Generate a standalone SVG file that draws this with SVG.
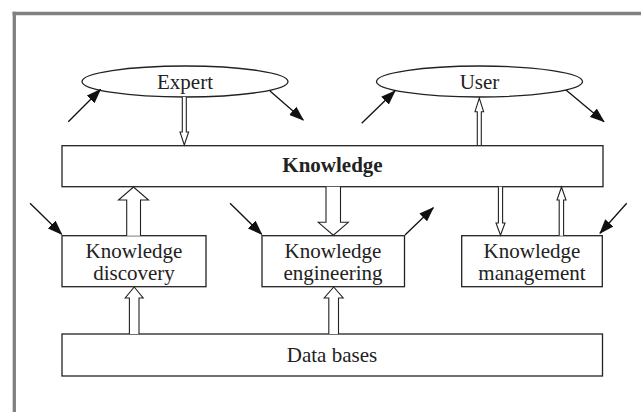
<svg xmlns="http://www.w3.org/2000/svg" width="641" height="412" viewBox="0 0 641 412">
<defs>
<marker id="ah" viewBox="0 0 15 11" refX="14" refY="5.5" markerWidth="15" markerHeight="11" markerUnits="userSpaceOnUse" orient="auto">
<path d="M0,0 L15,5.5 L0,11 z" fill="#111"/>
</marker>
<style>
.box{fill:#fff;stroke:#222;stroke-width:1.3}
.t{font-family:"Liberation Serif","Times New Roman",serif;font-size:21px;fill:#222;text-anchor:middle}
.b{font-weight:bold}
.ha{fill:#fff;stroke:#222;stroke-width:1.1;stroke-linejoin:miter}
.ba{stroke:#111;stroke-width:1.3;fill:none;marker-end:url(#ah)}
</style>
</defs>
<rect width="641" height="412" fill="#fff"/>
<g id="frame" fill="none" stroke="#808080" stroke-width="3.3">
<line x1="12.6" y1="13.5" x2="641" y2="13.5"/>
<line x1="14.3" y1="11.8" x2="14.3" y2="412"/>
</g>
<g id="expert">
<ellipse class="box" cx="185" cy="81.5" rx="103" ry="15.5"/>
<text class="t" x="185" y="89">Expert</text>
</g>
<g id="user">
<ellipse class="box" cx="479.5" cy="81.5" rx="103" ry="15.5"/>
<text class="t" x="479.5" y="89">User</text>
</g>
<g id="knowledge">
<rect class="box" x="62" y="145.7" width="541" height="41"/>
<text class="t b" x="332.5" y="172">Knowledge</text>
</g>
<g id="discovery">
<rect class="box" x="62" y="235.7" width="144" height="51"/>
<text class="t" x="134" y="258.3">Knowledge</text>
<text class="t" x="134" y="280">discovery</text>
</g>
<g id="engineering">
<rect class="box" x="262" y="235.7" width="142.5" height="51"/>
<text class="t" x="333" y="258.3">Knowledge</text>
<text class="t" x="333" y="280">engineering</text>
</g>
<g id="management">
<rect class="box" x="461.7" y="235.7" width="140.6" height="51"/>
<text class="t" x="532" y="258.3">Knowledge</text>
<text class="t" x="532" y="280">management</text>
</g>
<g id="databases">
<rect class="box" x="62" y="334" width="540.5" height="42"/>
<text class="t" x="332" y="362">Data bases</text>
</g>
<g id="connectors">
<polyline class="ha" points="182.3,97 182.3,132 180,132 184.3,145 188.6,132 186.3,132 186.3,97"/>
<polyline class="ha" points="477.3,145 477.3,111.7 475,111.7 479.3,98 483.6,111.7 481.3,111.7 481.3,145"/>
<polyline class="ha" points="126.7,235.7 126.7,200 118.5,200 133.5,187 148.5,200 140.5,200 140.5,235.7"/>
<polyline class="ha" points="326,186.7 326,222.3 318.3,222.3 333.3,235.2 348.3,222.3 340.5,222.3 340.5,186.7"/>
<polyline class="ha" points="498.4,186.7 498.4,223 496,223 500.5,235.2 505,223 502.6,223 502.6,186.7"/>
<polyline class="ha" points="559.2,235.7 559.2,200 557,200 561.5,187 566,200 563.6,200 563.6,235.7"/>
<polyline class="ha" points="129.4,334 129.4,298 125.2,298 134.2,287 143.2,298 139,298 139,334"/>
<polyline class="ha" points="328.8,334 328.8,298 324.2,298 333.7,287 343.2,298 338.5,298 338.5,334"/>
<line class="ba" x1="68.3" y1="121.7" x2="100.5" y2="89.5"/>
<line class="ba" x1="270" y1="91" x2="303.3" y2="120"/>
<line class="ba" x1="361.7" y1="123.3" x2="395" y2="91"/>
<line class="ba" x1="566" y1="90" x2="604" y2="121.7"/>
<line class="ba" x1="30" y1="203.3" x2="61.7" y2="234.3"/>
<line class="ba" x1="230" y1="203.3" x2="261.7" y2="234.3"/>
<line class="ba" x1="405" y1="235" x2="433.3" y2="207.7"/>
<line class="ba" x1="626.7" y1="203.3" x2="600" y2="233.3"/>
</g>
</svg>
